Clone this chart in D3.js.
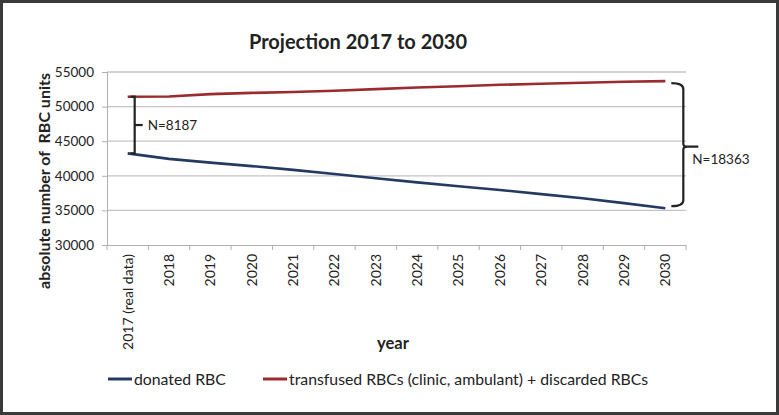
<!DOCTYPE html>
<html><head><meta charset="utf-8">
<script src="https://cdn.jsdelivr.net/npm/d3@7"></script>
<style>html,body{margin:0;padding:0;background:#fff}</style>
</head><body>
<svg id="c" width="779" height="415"></svg>
<script>
const categories = ["2017 (real data)","2018","2019","2020","2021","2022","2023","2024","2025","2026","2027","2028","2029","2030"];
const donated = [43243,42450,41900,41400,40850,40250,39650,39050,38500,37950,37350,36750,36050,35317];
const transfused = [51430,51450,51800,51980,52100,52300,52530,52760,52950,53150,53300,53450,53600,53680];
const yTicks = [30000,35000,40000,45000,50000,55000];
const gapStart = 8187, gapEnd = 18363;

(function(){
const svg = d3.select("#c");
const font = "Lato, 'Open Sans', sans-serif";
svg.append("rect").attr("x",1.5).attr("y",1.5).attr("width",776).attr("height",412)
  .attr("fill","#fff").attr("stroke","#3a3a3a").attr("stroke-width",3);

const pl=107, pr=686, pt=72, pb=245;
const x = d3.scaleBand().domain(categories).range([pl,pr]);
const y = d3.scaleLinear().domain([30000,55000]).range([pb,pt]);
const cx = d => x(d)+x.bandwidth()/2;

// gridlines
svg.append("g").selectAll("line").data(yTicks.slice(1)).join("line")
  .attr("x1",pl).attr("x2",pr).attr("y1",d=>y(d)).attr("y2",d=>y(d))
  .attr("stroke","#c4c4c4").attr("stroke-width",1.3);

// y axis
const ya = svg.append("g").attr("transform",`translate(${pl},0)`)
  .call(d3.axisLeft(y).tickValues(yTicks).tickSize(5).tickPadding(8).tickFormat(d3.format("d")));
ya.select(".domain").attr("stroke","#b0b0b0");
ya.selectAll(".tick line").attr("stroke","#b0b0b0");
ya.selectAll("text").attr("font-family",font).attr("font-size",13.5).attr("fill","#222");

// x axis
const xa = svg.append("g").attr("transform",`translate(0,${pb})`)
  .call(d3.axisBottom(x).tickSize(0).tickSizeOuter(0));
xa.select(".domain").attr("stroke","#b0b0b0");
xa.selectAll(".tick line").remove();
xa.selectAll("text").attr("font-family",font).attr("font-size",14).attr("fill","#222")
  .attr("transform","rotate(-90)").attr("text-anchor","end").attr("dy","0.35em").attr("x",-9).attr("y",0);
// category boundary ticks
svg.append("g").selectAll("line").data(d3.range(categories.length+1)).join("line")
  .attr("x1",i=>pl+i*x.step()).attr("x2",i=>pl+i*x.step())
  .attr("y1",pb).attr("y2",pb+5).attr("stroke","#b0b0b0");

// lines
const line = d3.line().x((d,i)=>cx(categories[i])).y(d=>y(d));
svg.append("path").datum(donated).attr("d",line).attr("fill","none")
  .attr("stroke","#243a63").attr("stroke-width",2.6);
svg.append("path").datum(transfused).attr("d",line).attr("fill","none")
  .attr("stroke","#9b2b2e").attr("stroke-width",2.6);

// left bracket
const bx = cx(categories[0])+7;
const y1=y(transfused[0]), y2=y(donated[0]);
const br = svg.append("g").attr("stroke","#222").attr("stroke-width",2.2).attr("fill","none");
br.append("path").attr("d",`M${bx-4},${y1}H${bx}V${y2}H${bx-4}`);
br.append("line").attr("x1",bx).attr("x2",bx+8).attr("y1",(y1+y2)/2).attr("y2",(y1+y2)/2);
svg.append("text").attr("x",bx+13).attr("y",(y1+y2)/2).attr("dy","0.35em")
  .attr("font-family",font).attr("font-size",13.5).attr("fill","#222").text("N="+gapStart);

// right curly brace
const rx = cx(categories[13])+6;
const ry1=y(transfused[13])+2, ry2=y(donated[13])-2;
const mid=(ry1+ry2)/2+2;
br.append("path").attr("d",
  `M${rx},${ry1} Q${rx+12},${ry1} ${rx+12},${ry1+6} V${mid-3} Q${rx+12},${mid} ${rx+16},${mid} H${rx+27}` +
  `M${rx+16},${mid} Q${rx+12},${mid} ${rx+12},${mid+3} V${ry2-6} Q${rx+12},${ry2} ${rx},${ry2}`);
svg.append("text").attr("x",rx+21).attr("y",mid+13).attr("dy","0.35em")
  .attr("font-family",font).attr("font-size",13.5).attr("fill","#222").text("N="+gapEnd);

// title
svg.append("text").attr("x",358).attr("y",49).attr("text-anchor","middle")
  .attr("font-family",font).attr("font-weight","bold").attr("font-size",20).attr("fill","#222")
  .text("Projection 2017 to 2030");
// axis titles
svg.append("text").attr("transform","translate(50,181) rotate(-90)").attr("text-anchor","middle")
  .attr("font-family",font).attr("font-weight","bold").attr("font-size",16).attr("fill","#222")
  .attr("xml:space","preserve").text("absolute number of  RBC units");
svg.append("text").attr("x",393).attr("y",349).attr("text-anchor","middle")
  .attr("font-family",font).attr("font-weight","bold").attr("font-size",16.5).attr("fill","#222").text("year");

// legend
const legend = [["donated RBC","#243a63",108],["transfused RBCs (clinic, ambulant) + discarded RBCs","#9b2b2e",263]];
const lg = svg.append("g").selectAll("g").data(legend).join("g");
lg.append("line").attr("x1",d=>d[2]).attr("x2",d=>d[2]+24).attr("y1",379).attr("y2",379)
  .attr("stroke",d=>d[1]).attr("stroke-width",3);
lg.append("text").attr("x",d=>d[2]+26).attr("y",379).attr("dy","0.35em")
  .attr("font-family",font).attr("font-size",15.8).attr("fill","#222").text(d=>d[0]);
})();
</script>
</body></html>
